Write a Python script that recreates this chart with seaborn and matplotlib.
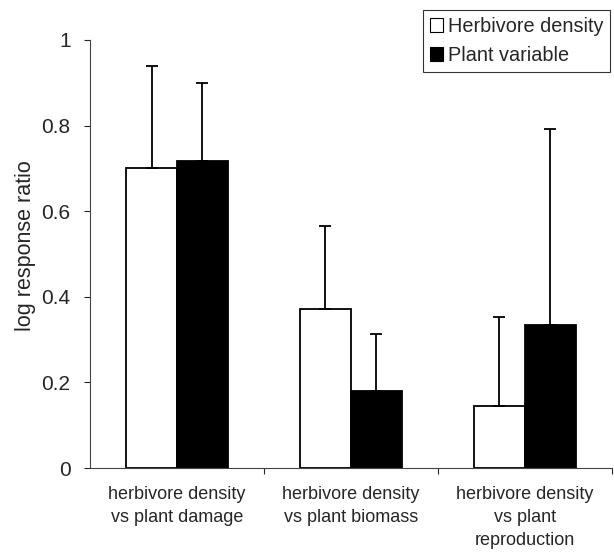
import pandas as pd
import matplotlib
matplotlib.use("Agg")
import matplotlib.pyplot as plt
import seaborn as sns
from matplotlib.patches import Patch

# Values (upper error bars only)
categories = ["herbivore density\nvs plant damage",
              "herbivore density\nvs plant biomass",
              "herbivore density\nvs plant\nreproduction"]
series = ["Herbivore density", "Plant variable"]
herbivore_vals = [0.700, 0.371, 0.145]
herbivore_err = [0.238, 0.194, 0.209]
plant_vals = [0.717, 0.180, 0.334]
plant_err = [0.183, 0.133, 0.457]

df = pd.DataFrame({
    "category": categories * 2,
    "series": [series[0]] * 3 + [series[1]] * 3,
    "value": herbivore_vals + plant_vals,
    "err": herbivore_err + plant_err,
})

sns.set_style("ticks")
plt.rcParams["font.family"] = ["Liberation Sans", "DejaVu Sans"]

fig = plt.figure(figsize=(6.14, 5.54), dpi=100)
ax = fig.add_axes([0.1466, 0.155, 0.850, 0.773])

sns.barplot(data=df, x="category", y="value", hue="series",
            hue_order=series, order=categories,
            palette=["white", "black"], width=0.586, gap=0,
            edgecolor="black", linewidth=1.3, errorbar=None,
            legend=False, ax=ax)

# Upper-only error bars, drawn on each bar centre
for patch, (_, row) in zip(ax.patches, df.iterrows()):
    xc = patch.get_x() + patch.get_width() / 2
    ax.errorbar(xc, row["value"], yerr=[[0], [row["err"]]], fmt="none",
                ecolor="black", elinewidth=1.3, capsize=4, capthick=1.3)

ax.set_ylim(0, 1)
ax.set_xlim(-0.5, 2.5)
ax.set_yticks([0, 0.2, 0.4, 0.6, 0.8, 1])
ax.set_yticklabels(["0", "0.2", "0.4", "0.6", "0.8", "1"], fontsize=15)
ax.set_ylabel("log response ratio", fontsize=15.5)
ax.yaxis.set_label_coords(-0.104, 0.52)
ax.set_xlabel("")

# tick marks at category boundaries, labels at centres
ax.set_xticks([0.5, 1.5, 2.5])
ax.set_xticklabels([])
ax.set_xticks([0, 1, 2], minor=True)
ax.set_xticklabels(categories, minor=True, fontsize=13, linespacing=1.45)
ax.tick_params(axis="x", which="minor", length=0, pad=13)
ax.tick_params(axis="x", which="major", length=4, width=0.8)
ax.tick_params(axis="y", length=4, width=0.8, pad=10)

for s in ["top", "right"]:
    ax.spines[s].set_visible(False)
for s in ["left", "bottom"]:
    ax.spines[s].set_linewidth(0.8)
    ax.spines[s].set_color("#444444")

handles = [Patch(facecolor="white", edgecolor="black", linewidth=0.8),
           Patch(facecolor="black", edgecolor="black", linewidth=0.8)]
leg = fig.legend(handles, series, loc="upper right",
                 bbox_to_anchor=(0.994, 0.982), fontsize=14.3,
                 frameon=True, fancybox=False, edgecolor="black",
                 handlelength=0.65, handleheight=0.65, handletextpad=0.25,
                 labelspacing=0.5, borderpad=0.35, borderaxespad=0)
leg.get_frame().set_linewidth(0.8)

fig.savefig("out.png", dpi=100)
